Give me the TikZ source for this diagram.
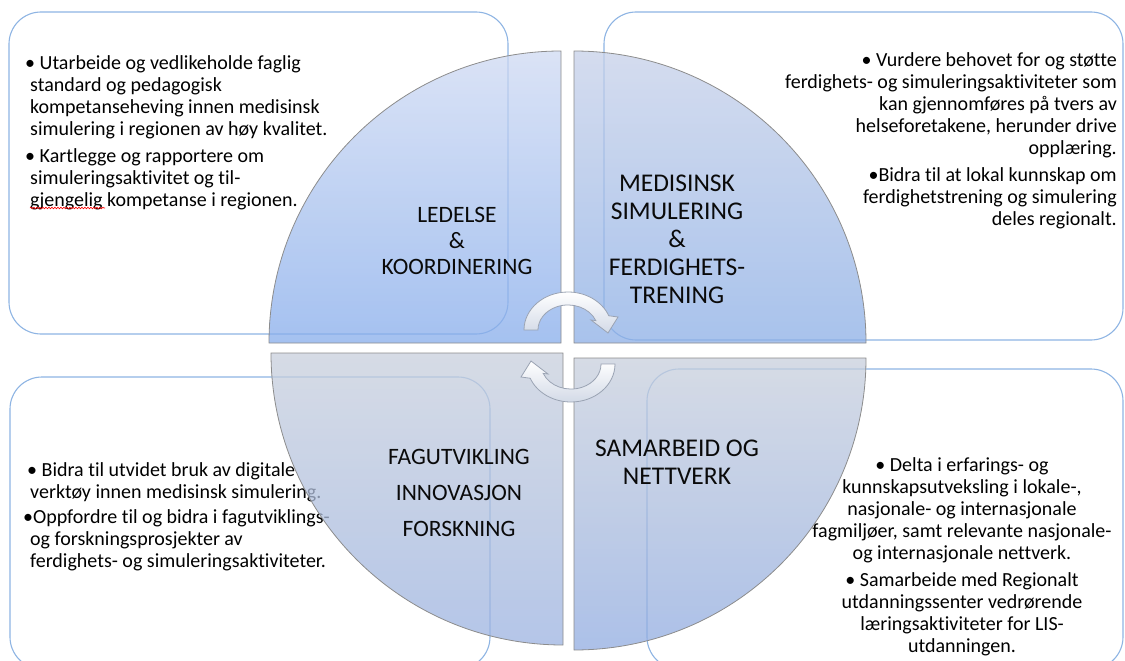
\documentclass[tikz,border=0pt]{standalone}
\usepackage{fontspec}
\setmainfont{Carlito}[Ligatures=NoCommon]
\usetikzlibrary{decorations.pathmorphing}
\definecolor{boxblue}{HTML}{8EB4E3}
\definecolor{tltop}{HTML}{CED9F2}
\definecolor{tlbot}{HTML}{86ACEB}
\definecolor{trtop}{HTML}{C6D0E8}
\definecolor{trbot}{HTML}{8BAEE6}
\definecolor{bltop}{HTML}{C8CFDC}
\definecolor{blbot}{HTML}{9BB2E0}
\definecolor{brtop}{HTML}{C8CFDC}
\definecolor{brbot}{HTML}{90ABE0}
\definecolor{labelgray}{HTML}{0A0A0A}
\definecolor{arrowline}{HTML}{9AA3B3}
\definecolor{arrowshade}{HTML}{D3DAE7}

\tikzset{
  infobox/.style={draw=boxblue, line width=1.1pt, rounded corners=32pt},
  quarter/.style={draw=black!45, line width=0.8pt, fill opacity=0.75},
  bullettext/.style={font=\fontsize{20}{22}\selectfont, inner sep=0pt},
  quadlabel/.style={align=center, inner sep=0pt, text=labelgray, anchor=north},
  cyclearrow/.style={draw=arrowline, line width=0.8pt, top color=white, bottom color=arrowshade}
}

\begin{document}
\begin{tikzpicture}[x=1pt, y=-1pt]
  \useasboundingbox (0,0) rectangle (1125,661);
  \clip (0,0) rectangle (1125,661);

  % boxes behind the circle
  \draw[infobox] (9,12) rectangle (508,334);
  \draw[infobox] (604,12) rectangle (1123,340);
  \draw[infobox] (10,377) rectangle (490,669);
  \draw[infobox] (647,369) rectangle (1123,669);

  \node[bullettext, anchor=north west, align=left] (fagtext) at (23,462)
    {\hspace*{4pt}• Bidra til utvidet bruk av digitale\\
     \hspace*{7pt}verktøy innen medisinsk simulering.\\[3pt]
     •Oppfordre til og bidra i fagutviklings-\\
     \hspace*{7pt}og forskningsprosjekter av\\
     \hspace*{7pt}ferdighets- og simuleringsaktiviteter.};

  % four quarters
  \draw[quarter, top color=tltop, bottom color=tlbot] (561,343) -- (269,343) arc[start angle=180, end angle=270, radius=292] -- cycle;
  \draw[quarter, top color=trtop, bottom color=trbot] (574,343) -- (574,51) arc[start angle=270, end angle=360, radius=292] -- cycle;
  \draw[quarter, top color=bltop, bottom color=blbot] (563,353) -- (563,645) arc[start angle=90, end angle=180, radius=292] -- cycle;
  \draw[quarter, top color=brtop, bottom color=brbot] (574,358) -- (866,358) arc[start angle=0, end angle=90, radius=292] -- cycle;

  \node[quadlabel, font=\fontsize{23.5}{26}\selectfont] (ledelse) at (457,207) {LEDELSE\\\&\\KOORDINERING};
  \node[quadlabel, font=\fontsize{25.5}{27.9}\selectfont] (medsim) at (677,175) {MEDISINSK\\SIMULERING\\\&\\FERDIGHETS-\\TRENING};
  \node[quadlabel, font=\fontsize{23.5}{36.2}\selectfont] (fagutv) at (459,449) {FAGUTVIKLING\\INNOVASJON\\FORSKNING};
  \node[quadlabel, font=\fontsize{25.5}{28}\selectfont] (samarb) at (677,440) {SAMARBEID OG\\NETTVERK};

  % cycle arrows
  \draw[cyclearrow] (524,330) arc[start angle=180, end angle=338, x radius=44, y radius=38]
    -- (618,317) -- (608,333) -- (591,320) -- (595.8,320.6)
    arc[start angle=338, end angle=180, x radius=30, y radius=25] -- cycle;
  \draw[cyclearrow] (615,364) arc[start angle=0, end angle=158, x radius=44, y radius=38]
    -- (521,377) -- (531,361) -- (548,374) -- (543.2,373.4)
    arc[start angle=158, end angle=0, x radius=30, y radius=25] -- cycle;

  % texts in the boxes
  \node[bullettext, anchor=north west, align=left] (ledtext) at (25,55)
    {• Utarbeide og vedlikeholde faglig\\
     \hspace*{5pt}standard og pedagogisk\\
     \hspace*{5pt}kompetanseheving innen medisinsk\\
     \hspace*{5pt}simulering i regionen av høy kvalitet.\\[5pt]
     • Kartlegge og rapportere om\\
     \hspace*{5pt}simuleringsaktivitet og til-\\
     \hspace*{5pt}gjengelig kompetanse i regionen.};
  \draw[red, line width=0.6pt, decorate, decoration={snake, amplitude=0.8pt, segment length=3pt}] (30,208) -- (105,208);

  \node[bullettext, anchor=north east, align=right] (simtext) at (1117,52)
    {• Vurdere behovet for og støtte\\
     ferdighets- og simuleringsaktiviteter som\\
     kan gjennomføres på tvers av\\
     helseforetakene, herunder drive\\
     opplæring.\\[5pt]
     •Bidra til at lokal kunnskap om\\
     ferdighetstrening og simulering\\
     deles regionalt.};

  \node[bullettext, anchor=north, align=center] (samtext) at (962,457)
    {• Delta i erfarings- og\\
     kunnskapsutveksling i lokale-,\\
     nasjonale- og internasjonale\\
     fagmiljøer, samt relevante nasjonale-\\
     og internasjonale nettverk.\\[5pt]
     • Samarbeide med Regionalt\\
     utdanningssenter vedrørende\\
     læringsaktiviteter for LIS-\\
     utdanningen.};
\end{tikzpicture}
\end{document}
